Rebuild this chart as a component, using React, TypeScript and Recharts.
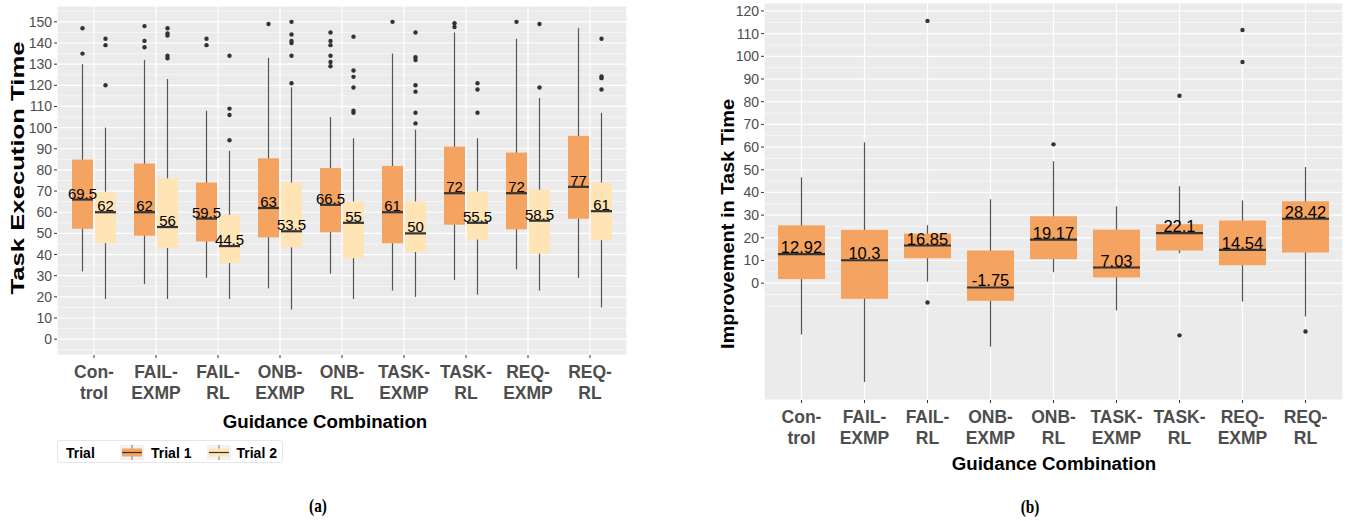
import React from 'react';
import { ComposedChart, Bar, XAxis, YAxis, CartesianGrid } from 'recharts';

// ---------- data ----------
const categories = ['Control', 'FAIL-EXMP', 'FAIL-RL', 'ONB-EXMP', 'ONB-RL', 'TASK-EXMP', 'TASK-RL', 'REQ-EXMP', 'REQ-RL'];
const tickLabelLines = [
  ['Con-', 'trol'], ['FAIL-', 'EXMP'], ['FAIL-', 'RL'], ['ONB-', 'EXMP'], ['ONB-', 'RL'],
  ['TASK-', 'EXMP'], ['TASK-', 'RL'], ['REQ-', 'EXMP'], ['REQ-', 'RL'],
];

// Panel (a): Task execution time, Trial 1
const t1Low = [32, 26, 29, 24, 31, 23, 28, 33, 29];
const t1Q1 = [52.2, 48.9, 46.2, 48.1, 50.5, 45.3, 54.1, 51.9, 56.9];
const t1Median = [66, 60, 57, 62, 63.5, 60, 69, 69, 72];
const t1Q3 = [84.9, 83, 74, 85.5, 80.9, 81.9, 91, 88.2, 96.1];
const t1High = [130, 132, 108, 133, 105, 135, 145, 142, 147];
const t1Outliers = [
  [147, 135], [148, 141, 138], [142, 139], [149], [145, 141, 139, 134, 131, 129],
  [150], [149.4, 147.6], [150], [],
];
const t1Labels = ['69.5', '62', '59.5', '63', '66.5', '61', '72', '72', '77'];

// Panel (a): Trial 2
const t2Low = [19, 19, 19, 14, 19, 20, 21, 23, 15];
const t2Q1 = [45.4, 43.1, 36, 43.4, 38.3, 41.2, 47.1, 40.4, 46.8];
const t2Median = [60, 53, 44, 51, 55, 50, 55, 56, 60.5];
const t2Q3 = [69.7, 76, 58.8, 74, 65.1, 65.1, 69.9, 70.7, 74];
const t2High = [100, 123, 89, 119, 95, 99, 95, 114, 107];
const t2Outliers = [
  [142, 139, 120], [147, 144.5, 143.5, 134, 132.8], [134, 109, 106, 94],
  [150, 144, 141, 140, 134, 121], [143, 127, 124, 119, 108, 107],
  [145, 133.3, 132, 120, 117, 107, 102], [121, 118, 107], [149, 119], [142, 124.2, 123.4, 118],
];
const t2Labels = ['62', '56', '44.5', '53.5', '55', '50', '55.5', '58.5', '61'];

// Panel (b): improvement in task time
const impLow = [-22.6, -43.6, 0.7, -28, 4.8, -12, 13.2, -8.1, -14.7];
const impQ1 = [1.8, -6.9, 11, -7.8, 10.6, 2.5, 14.4, 7.9, 13.5];
const impMedian = [12.8, 10.1, 16.6, -1.9, 19.2, 6.9, 22.1, 14.7, 28.4];
const impQ3 = [25.5, 23.5, 21.8, 14.4, 29.5, 23.6, 26, 27.6, 36.1];
const impHigh = [46.7, 62.1, 25.5, 37, 53.7, 33.9, 42.7, 36.4, 51.2];
const impOutliers = [[], [], [115.6, -8.5], [], [61.2], [], [82.6, -23], [111.6, 97.5], [-21.3]];
const impLabels = ['12.92', '10.3', '16.85', '-1.75', '19.17', '7.03', '22.1', '14.54', '28.42'];

const timeTicks = [0, 10, 20, 30, 40, 50, 60, 70, 80, 90, 100, 110, 120, 130, 140, 150];
const timeMinor = [-5, 5, 15, 25, 35, 45, 55, 65, 75, 85, 95, 105, 115, 125, 135, 145, 155];
const impTicks = [0, 10, 20, 30, 40, 50, 60, 70, 80, 90, 100, 110, 120];
const impMinor = [-10, -5, 5, 15, 25, 35, 45, 55, 65, 75, 85, 95, 105, 115];

// ---------- build rows ----------
type Stats = { low: number; q1: number; median: number; q3: number; high: number; outliers: number[]; label: string };
const mk = (lo: number[], q1: number[], md: number[], q3: number[], hi: number[], out: number[][], lab: string[], i: number): Stats => ({
  low: lo[i], q1: q1[i], median: md[i], q3: q3[i], high: hi[i], outliers: out[i], label: lab[i],
});

const timeRows = categories.map((cat, i) => ({
  cat,
  t1: mk(t1Low, t1Q1, t1Median, t1Q3, t1High, t1Outliers, t1Labels, i),
  t2: mk(t2Low, t2Q1, t2Median, t2Q3, t2High, t2Outliers, t2Labels, i),
}));
const impRows = categories.map((cat, i) => ({
  cat,
  imp: mk(impLow, impQ1, impMedian, impQ3, impHigh, impOutliers, impLabels, i),
}));

const span = (s: Stats): [number, number] => [Math.min(s.low, ...s.outliers), Math.max(s.high, ...s.outliers)];

// ---------- styles ----------
const SANS = 'Liberation Sans, Arial, Helvetica, sans-serif';
const SERIF = 'Liberation Serif, DejaVu Serif, serif';
const C_T1 = '#F4A460';
const C_T2 = '#FFE4B5';
const AXIS_TEXT = '#4d4d4d';

// ---------- shapes ----------
function geom(props: any, s: Stats) {
  const { x, y, width, height } = props;
  const [lo, hi] = span(s);
  const top = Math.min(y, y + height);
  const h = Math.abs(height);
  const k = h / (hi - lo);
  const py = (v: number) => top + (hi - v) * k;
  return { x, width, cx: x + width / 2, py, ok: h > 0 && isFinite(k) };
}

const BoxShape = (props: any) => {
  const s: Stats = props.stats;
  const g = geom(props, s);
  if (!g.ok) return null;
  const { x, width, cx, py } = g;
  return (
    <g>
      <line x1={cx} x2={cx} y1={py(s.high)} y2={py(s.low)} stroke="#555" strokeWidth={1.2} />
      <rect x={x} y={py(s.q3)} width={width} height={py(s.q1) - py(s.q3)} fill={props.boxFill} />
      <line x1={x} x2={x + width} y1={py(s.median)} y2={py(s.median)} stroke="#333" strokeWidth={2.2} />
      {s.outliers.map((o, j) => (
        <circle key={j} cx={cx} cy={py(o)} r={2.2} fill="#333" />
      ))}
      {props.withLabel ? (
        <text x={cx} y={py(s.median) - 1} textAnchor="middle" fontSize={props.labelSize} fontFamily={SANS} fill="#000">
          {s.label}
        </text>
      ) : null}
    </g>
  );
};

const LabelShape = (props: any) => {
  const s: Stats = props.stats;
  const g = geom(props, s);
  if (!g.ok) return null;
  return (
    <text x={g.cx} y={g.py(s.median) - 1} textAnchor="middle" fontSize={15} fontFamily={SANS} fill="#000">
      {s.label}
    </text>
  );
};

const XTick = (props: any) => {
  const { x, y, payload } = props;
  const idx = categories.indexOf(payload.value);
  const lines = tickLabelLines[idx] || [String(payload.value), ''];
  return (
    <text x={x} y={y} textAnchor="middle" fill={AXIS_TEXT} fontSize={17.5} fontWeight="bold" fontFamily={SANS}>
      <tspan x={x} dy={18}>{lines[0]}</tspan>
      <tspan x={x} dy={21}>{lines[1]}</tspan>
    </text>
  );
};

const applyScale = (sc: any, v: number): number | null => {
  if (!sc) return null;
  if (typeof sc === 'function') return sc(v);
  if (typeof sc.map === 'function') return sc.map(v);
  if (typeof sc.scale === 'function') return sc.scale(v);
  return null;
};

const minorGen = (vals: number[]) => (p: any) => {
  const sc = p && p.yAxis && p.yAxis.scale;
  const out: number[] = [];
  vals.forEach((v) => {
    try {
      const r = applyScale(sc, v);
      if (typeof r === 'number' && isFinite(r)) out.push(r);
    } catch (e) {
      /* ignore */
    }
  });
  return out;
};

const yTick = { fill: AXIS_TEXT, fontSize: 14, fontFamily: SANS };

// ---------- charts ----------
function TimeChart() {
  return (
    <ComposedChart width={660} height={480} data={timeRows} margin={{ top: 6, right: 33, bottom: 65, left: 0 }} barGap={2}>
      <CartesianGrid fill="#EBEBEB" stroke="#ffffff" strokeWidth={1.2} />
      <CartesianGrid vertical={false} stroke="#ffffff" strokeWidth={0.55} horizontalCoordinatesGenerator={minorGen(timeMinor)} />
      <XAxis dataKey="cat" type="category" padding={{ left: 6, right: 6 }} height={60} axisLine={false}
        tickLine={{ stroke: '#333' }} tickSize={3} tick={<XTick />} interval={0} />
      <XAxis xAxisId="lab" dataKey="cat" type="category" padding={{ left: 6, right: 6 }} hide />
      <YAxis type="number" domain={[-7.5, 157.5]} allowDataOverflow ticks={timeTicks} width={57} axisLine={false}
        tickLine={{ stroke: '#333' }} tickSize={3} tick={yTick} interval={0} />
      <Bar dataKey={(d: any) => span(d.t1)} barSize={21} isAnimationActive={false}
        shape={(p: any) => <BoxShape {...p} stats={p.payload.t1} boxFill={C_T1} />} />
      <Bar dataKey={(d: any) => span(d.t2)} barSize={21} isAnimationActive={false}
        shape={(p: any) => <BoxShape {...p} stats={p.payload.t2} boxFill={C_T2} />} />
      <Bar xAxisId="lab" dataKey={(d: any) => span(d.t1)} barSize={21} isAnimationActive={false}
        shape={(p: any) => <LabelShape {...p} stats={p.payload.t1} />} />
      <Bar xAxisId="lab" dataKey={(d: any) => span(d.t2)} barSize={21} isAnimationActive={false}
        shape={(p: any) => <LabelShape {...p} stats={p.payload.t2} />} />
    </ComposedChart>
  );
}

function ImpChart() {
  return (
    <ComposedChart width={646} height={480} data={impRows} margin={{ top: 3, right: 3, bottom: 20, left: 0 }}>
      <CartesianGrid fill="#EBEBEB" stroke="#ffffff" strokeWidth={1.2} />
      <CartesianGrid vertical={false} stroke="#ffffff" strokeWidth={0.55} horizontalCoordinatesGenerator={minorGen(impMinor)} />
      <XAxis dataKey="cat" type="category" padding={{ left: 6, right: 6 }} height={60} axisLine={false}
        tickLine={{ stroke: '#333' }} tickSize={3} tick={<XTick />} interval={0} />
      <YAxis type="number" domain={[-51.5, 123.5]} allowDataOverflow ticks={impTicks} width={64} axisLine={false}
        tickLine={{ stroke: '#333' }} tickSize={3} tick={yTick} interval={0} />
      <Bar dataKey={(d: any) => span(d.imp)} barSize={47} isAnimationActive={false}
        shape={(p: any) => <BoxShape {...p} stats={p.payload.imp} boxFill={C_T1} withLabel labelSize={16.5} />} />
    </ComposedChart>
  );
}

function Overlay() {
  const legendKey = (x: number, fill: string) => (
    <g>
      <rect x={x} y={445} width={24} height={15} fill="#f2f2f2" />
      <line x1={x + 12} x2={x + 12} y1={445} y2={460} stroke="#555" strokeWidth={0.8} />
      <rect x={x + 2} y={448.5} width={20} height={8} fill={fill} />
      <line x1={x + 2} x2={x + 22} y1={452.5} y2={452.5} stroke="#333" strokeWidth={1.2} />
    </g>
  );
  return (
    <svg width={1346} height={521} style={{ position: 'absolute', left: 0, top: 0 }}>
      <text transform="translate(23.5,168) rotate(-90)" textAnchor="middle" fontSize={18} fontWeight="bold" fontFamily={SANS}
        fill="#000" textLength={253} lengthAdjust="spacingAndGlyphs">Task Execution Time</text>
      <text transform="translate(733.5,224) rotate(-90)" textAnchor="middle" fontSize={18} fontWeight="bold" fontFamily={SANS}
        fill="#000" textLength={250} lengthAdjust="spacingAndGlyphs">Improvement in Task Time</text>
      <text x={325} y={428} textAnchor="middle" fontSize={18.7} fontWeight="bold" fontFamily={SANS} fill="#000">Guidance Combination</text>
      <text x={1054} y={470} textAnchor="middle" fontSize={18.7} fontWeight="bold" fontFamily={SANS} fill="#000">Guidance Combination</text>

      <rect x={57.5} y={440.5} width={225} height={22} rx={2} fill="#fff" stroke="#e6e6e6" />
      <text x={66} y={457.5} fontSize={14} fontWeight="bold" fontFamily={SANS} fill="#000">Trial</text>
      {legendKey(120, C_T1)}
      <text x={151} y={457.5} fontSize={14} fontWeight="bold" fontFamily={SANS} fill="#000">Trial 1</text>
      {legendKey(207, C_T2)}
      <text x={236.5} y={457.5} fontSize={14} fontWeight="bold" fontFamily={SANS} fill="#000">Trial 2</text>

      <text transform="translate(318,512) scale(0.9,1.15)" textAnchor="middle" fontSize={17} fontWeight="bold" fontFamily={SERIF} fill="#000">(a)</text>
      <text transform="translate(1030,513) scale(0.9,1.15)" textAnchor="middle" fontSize={17} fontWeight="bold" fontFamily={SERIF} fill="#000">(b)</text>
    </svg>
  );
}

export default function App() {
  return (
    <div style={{ position: 'absolute', left: 0, top: 0, width: 1346, height: 521, background: '#fff', overflow: 'hidden' }}>
      <Overlay />
      <div style={{ position: 'absolute', left: 0, top: 0 }}>
        <TimeChart />
      </div>
      <div style={{ position: 'absolute', left: 700, top: 0 }}>
        <ImpChart />
      </div>
    </div>
  );
}
